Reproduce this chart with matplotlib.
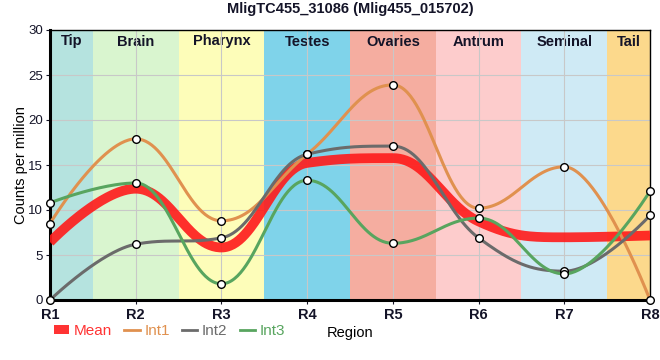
import matplotlib
matplotlib.use("Agg")
import matplotlib.pyplot as plt
from matplotlib.lines import Line2D
from matplotlib.patches import Patch
import numpy as np

plt.rcParams['font.family'] = ['Liberation Sans', 'DejaVu Sans']

# Data
regions = ['R1', 'R2', 'R3', 'R4', 'R5', 'R6', 'R7', 'R8']
band_labels = ['Tip', 'Brain', 'Pharynx', 'Testes', 'Ovaries', 'Antrum', 'Seminal', 'Tail']
band_colors = ['#b5e3df', '#d9f5cf', '#fdfdb9', '#7fd3ea', '#f5ada0', '#fdcccc', '#cfeaf5', '#fcd98c']
int1 = [8.5, 17.9, 8.8, 16.2, 23.9, 10.2, 14.8, 0.0]
int2 = [0.0, 6.2, 6.9, 16.2, 17.1, 6.9, 3.2, 9.4]
int3 = [10.8, 13.0, 1.8, 13.3, 6.3, 9.1, 2.9, 12.1]
mean = list(np.mean([int1, int2, int3], axis=0))

text_color = '#141428'


def spline_curve(x, y, n=60, smoothing=1.5):
    """Bezier spline with horizontal-clamped control points at extrema."""
    x = np.asarray(x, float)
    y = np.asarray(y, float)
    npts = len(x)
    lc = [(x[i], y[i]) for i in range(npts)]
    rc = [(x[i], y[i]) for i in range(npts)]
    for i in range(1, npts - 1):
        lx = (smoothing * x[i] + x[i - 1]) / (smoothing + 1)
        ly = (smoothing * y[i] + y[i - 1]) / (smoothing + 1)
        rx = (smoothing * x[i] + x[i + 1]) / (smoothing + 1)
        ry = (smoothing * y[i] + y[i + 1]) / (smoothing + 1)
        corr = (ry - ly) * (rx - x[i]) / (rx - lx) + y[i] - ry
        ly += corr
        ry += corr
        if ly > y[i - 1] and ly > y[i]:
            ly = max(y[i - 1], y[i])
            ry = 2 * y[i] - ly
        elif ly < y[i - 1] and ly < y[i]:
            ly = min(y[i - 1], y[i])
            ry = 2 * y[i] - ly
        if ry > y[i + 1] and ry > y[i]:
            ry = max(y[i + 1], y[i])
            ly = 2 * y[i] - ry
        elif ry < y[i + 1] and ry < y[i]:
            ry = min(y[i + 1], y[i])
            ly = 2 * y[i] - ry
        lc[i] = (lx, ly)
        rc[i] = (rx, ry)
    t = np.linspace(0, 1, n)[:, None]
    segs = []
    for i in range(npts - 1):
        p0 = np.array([x[i], y[i]])
        p1 = np.array(rc[i])
        p2 = np.array(lc[i + 1])
        p3 = np.array([x[i + 1], y[i + 1]])
        segs.append((1 - t)**3 * p0 + 3 * (1 - t)**2 * t * p1 + 3 * (1 - t) * t**2 * p2 + t**3 * p3)
    pts = np.vstack(segs)
    return pts[:, 0], pts[:, 1]


fig = plt.figure(figsize=(6.6, 3.6), dpi=100)
ax = fig.add_axes([50 / 660, 1 - 300 / 360, 600 / 660, 270 / 360])

xpos = np.arange(len(regions))
last = len(regions) - 1
for i, (lab, col) in enumerate(zip(band_labels, band_colors)):
    lo, hi = max(i - 0.5, 0), min(i + 0.5, last)
    ax.axvspan(lo, hi, color=col, lw=0, zorder=0)
    ax.text((lo + hi) / 2, 29.5, lab, ha='center', va='top', fontsize=10.5, fontweight='bold',
            color=text_color, zorder=1)

ax.grid(True, color='#c8c8c8', lw=0.8, zorder=1)

series = [(int1, '#e0914f', 'Int1'), (int2, '#6b6b6b', 'Int2'), (int3, '#58a55f', 'Int3')]
mx, my = spline_curve(xpos, mean)
ax.plot(mx, my, color='#ff1a1a', lw=7, alpha=0.9, solid_capstyle='butt', zorder=3)
for vals, col, name in series:
    sx, sy = spline_curve(xpos, vals)
    ax.plot(sx, sy, color=col, lw=2.2, zorder=4)
    ax.plot(xpos, vals, 'o', ms=5.5, mfc='white', mec='black', mew=1, zorder=5, clip_on=False)

ax.set_xlim(0, last)
ax.set_ylim(0, 30)
ax.set_xticks(xpos)
ax.set_xticklabels(regions, fontweight='bold', fontsize=10.5, color=text_color)
ax.set_yticks(range(0, 31, 5))
ax.tick_params(axis='both', length=3, labelsize=9.5, colors=text_color, pad=2)
ax.tick_params(axis='x', labelsize=10.5, pad=3)
ax.spines['left'].set_linewidth(2.2)
ax.spines['bottom'].set_linewidth(2.2)
ax.spines['top'].set_linewidth(1)
ax.spines['right'].set_linewidth(1)
ax.set_ylabel('Counts per million', fontsize=10.5, color='black', labelpad=0)
ax.set_xlabel('Region', fontsize=10.5, color='black', labelpad=3)
ax.set_title('MligTC455_31086 (Mlig455_015702)', fontsize=10.5, fontweight='bold',
             color=text_color, pad=12)

handles = [Patch(facecolor='#ff3333', edgecolor='none', label='Mean'),
           Line2D([], [], color='#e0914f', lw=2, label='Int1'),
           Line2D([], [], color='#6b6b6b', lw=2, label='Int2'),
           Line2D([], [], color='#58a55f', lw=2, label='Int3')]
leg = fig.legend(handles=handles, loc='center left', bbox_to_anchor=(54 / 660, 1 - 331 / 360),
                 ncol=4, frameon=False, fontsize=11, handlelength=1.0, handleheight=0.5,
                 handletextpad=0.3, columnspacing=0.8, borderpad=0, borderaxespad=0)
for txt, col in zip(leg.get_texts(), ['#ff3333', '#e0914f', '#6b6b6b', '#58a55f']):
    txt.set_color(col)

fig.savefig('out.png', dpi=100)
